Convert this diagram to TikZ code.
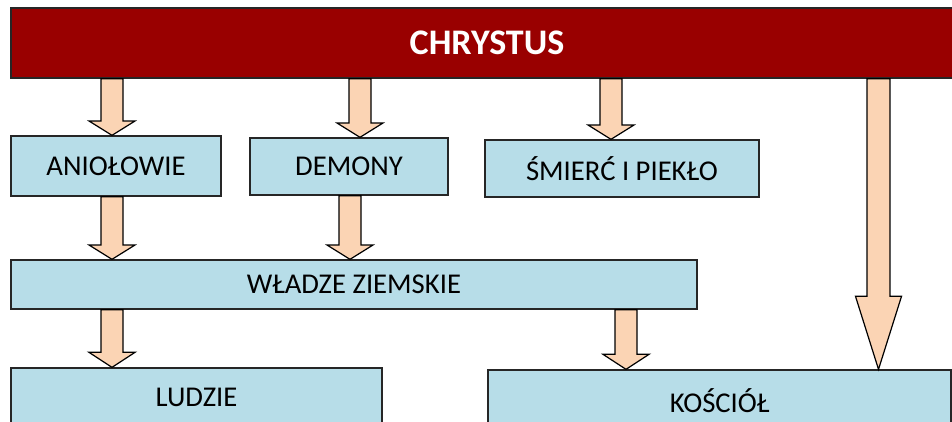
\documentclass[tikz,border=0pt]{standalone}
\usepackage{fontspec}
\setmainfont{Carlito}
\usetikzlibrary{calc}
\definecolor{barred}{HTML}{990000}
\definecolor{boxblue}{HTML}{B7DDE8}
\definecolor{peach}{HTML}{FBD4B4}
\tikzset{
 box/.style={draw=black!85, line width=1pt, fill=boxblue, rectangle, inner sep=0pt, font=\fontsize{21.5}{24}\selectfont, text=black},
 topbar/.style={draw=black!85, line width=1pt, fill=barred, rectangle, inner sep=0pt, font=\bfseries\fontsize{27}{30}\selectfont, text=white},
 blk/.style={draw=black, line width=0.9pt, fill=peach, line join=miter}
}
\newcommand\blkarrow[6]{%
 \draw[blk] let \p1=(#1.south -| #3,0), \p2=(#2.north -| #3,0) in
 ({\x1-#4}, \y1) -- ({\x1-#4}, {\y2+#6}) -- ({\x1-#5},{\y2+#6}) -- (\x1,\y2) -- ({\x1+#5},{\y2+#6}) -- ({\x1+#4},{\y2+#6}) -- ({\x1+#4},\y1) -- cycle;}
\begin{document}
\begin{tikzpicture}[x=0.75pt,y=-0.75pt]
\useasboundingbox (0,0) rectangle (952,421);
\clip (0,0) rectangle (952,421);
\node[topbar, minimum width=952*0.75pt, minimum height=70*0.75pt] (bar) at (487,43) {CHRYSTUS};
\node[box, minimum width=210*0.75pt, minimum height=60*0.75pt] (anio) at (116,166) {ANIOŁOWIE};
\node[box, minimum width=198*0.75pt, minimum height=57*0.75pt] (demony) at (349,166.5) {DEMONY};
\node[box, minimum width=274*0.75pt, minimum height=57*0.75pt] (smierc) at (622,168.5) {ŚMIERĆ I PIEKŁO};
\node[box, minimum width=686*0.75pt, minimum height=49*0.75pt] (wladze) at (354,284.5) {WŁADZE ZIEMSKIE};
\node[box, minimum width=371*0.75pt, minimum height=59*0.75pt] (ludzie) at (196.5,397.5) {LUDZIE};
\node[box, minimum width=463*0.75pt, minimum height=62*0.75pt] (kosciol) at (719.5,401) {KOŚCIÓŁ};
\blkarrow{bar}{anio}{112}{8.25pt}{17.25pt}{10.75pt}
\blkarrow{bar}{demony}{360}{8.25pt}{17.25pt}{10.75pt}
\blkarrow{bar}{smierc}{611}{8.25pt}{17.25pt}{10.75pt}
\blkarrow{anio}{wladze}{112}{8.25pt}{17.25pt}{10.75pt}
\blkarrow{demony}{wladze}{350}{8.25pt}{17.25pt}{10.75pt}
\blkarrow{wladze}{ludzie}{112}{8.25pt}{17.25pt}{11.25pt}
\blkarrow{wladze}{kosciol}{626}{8.25pt}{17.25pt}{11.25pt}
\blkarrow{bar}{kosciol}{878.5}{8.6pt}{17.25pt}{54.75pt}
\end{tikzpicture}
\end{document}
